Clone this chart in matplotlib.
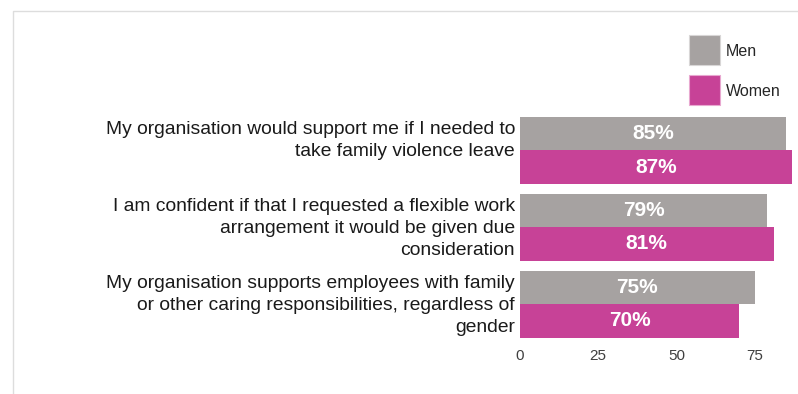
import numpy as np
import matplotlib.pyplot as plt
from matplotlib.patches import Rectangle
from matplotlib.lines import Line2D

plt.rcParams['font.family'] = ['Liberation Sans', 'DejaVu Sans']

statements = [
    'My organisation would support me if I needed to\ntake family violence leave',
    'I am confident if that I requested a flexible work\narrangement it would be given due\nconsideration',
    'My organisation supports employees with family\nor other caring responsibilities, regardless of\ngender',
]
men = [85, 79, 75]
women = [87, 81, 70]
ticks = [0, 25, 50, 75]
series = ['Men', 'Women']

men_color = '#A6A2A1'
women_color = '#C74297'

W, H = 798, 394
fig = plt.figure(figsize=(W / 100, H / 100), dpi=100)
ax = fig.add_axes([0.6516, 0.1307, 0.3484, 0.586])

y = np.arange(len(statements))
h = 0.44
ax.barh(y - h / 2, men, height=h - 0.01, color=men_color)
ax.barh(y + h / 2, women, height=h - 0.01, color=women_color)

for yi, m, w in zip(y, men, women):
    ax.text(m / 2, yi - h / 2, f'{m}%', ha='center', va='center',
            color='white', fontsize=15, fontweight='bold')
    ax.text(w / 2, yi + h / 2, f'{w}%', ha='center', va='center',
            color='white', fontsize=15, fontweight='bold')

# statement labels hang from the top of each group
for yi, s in zip(y, statements):
    ax.text(-1.6, yi - h + 0.06, s, ha='right', va='top', fontsize=13.9,
            color='#1a1a1a', linespacing=1.38)

ax.set_xlim(0, 88.8)
ax.set_ylim(2.5, -0.5)
ax.set_xticks(ticks)
ax.set_yticks([])
ax.tick_params(axis='x', length=0, pad=5, labelsize=11, labelcolor='#404040')
for sp in ax.spines.values():
    sp.set_visible(False)

# legend: square swatches with labels to the right
for i, (name, col, edge) in enumerate(zip(series, [men_color, women_color],
                                          ['#d8d6d6', '#e8a8d0'])):
    top = 35 + i * 40
    fig.add_artist(Rectangle((689 / W, 1 - (top + 30) / H), 31 / W, 30 / H,
                             transform=fig.transFigure, facecolor=col,
                             edgecolor=edge, lw=0.8))
    fig.text(726 / W, 1 - (top + 16) / H, name, ha='left', va='center',
             fontsize=11.5, color='#262626')

# thin frame on the top and left
fy = 1 - 11 / H
fx = 13 / W
fig.add_artist(Line2D([fx, fx, 1], [0, fy, fy], color='#dddddd', lw=1))

fig.savefig('out.png', dpi=100)
